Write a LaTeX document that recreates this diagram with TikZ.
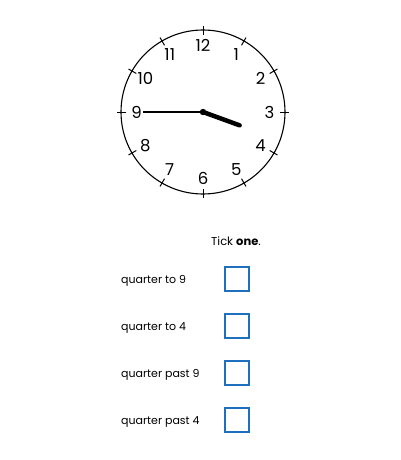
\documentclass[tikz,border=0pt]{standalone}
\usepackage{fontspec}
\setmainfont{Poppins}
\definecolor{BoxBlue}{RGB}{30, 112, 190}
\usetikzlibrary{arrows.meta, positioning, calc}

\begin{document}
\begin{tikzpicture}[
        x=1pt, y=-1pt,
        hour_num/.style={font=\fontsize{16.5}{16}\selectfont, inner sep=0pt},
        tick_box/.style={draw=BoxBlue, line width=2pt, minimum size=24pt, inner sep=0pt},
        choice/.style={font=\fontsize{11}{13}\selectfont, anchor=base west, inner sep=0pt}
    ]
        \useasboundingbox (0,0) rectangle (400,460);
        % Clock face
        \coordinate (c) at (203,112);
        \draw[line width=1.1pt] (c) circle[radius=82];
        \foreach \h in {1,...,12} {
            \draw[line width=1pt] ($(c)+({30*\h-90}:77)$) -- ($(c)+({30*\h-90}:86)$);
            \node[hour_num] (h\h) at ($(c)+({30*\h-90}:66.5)$) {\h};
        }
        % Hands
        \coordinate (minute_end) at ($(c)+(180:60)$);
        \coordinate (hour_end) at ($(c)+(20:39)$);
        \draw[line width=2pt] (c) -- (minute_end);
        \draw[line width=4.5pt, line cap=round] (c) -- (hour_end);
        \fill (c) circle[radius=3.2];

        % Question
        \node[font=\fontsize{11.5}{13}\selectfont, anchor=west, inner sep=0pt] (tick) at (211,241) {Tick \textbf{one}.};
        \node[tick_box] (b1) at (236.5,279) {};
        \node[tick_box, below=21pt of b1] (b2) {};
        \node[tick_box, below=21pt of b2] (b3) {};
        \node[tick_box, below=21pt of b3] (b4) {};
        \coordinate (lbl) at (121,-4);
        \node[choice] (q1) at ($(lbl |- b1)+(0,4)$) {quarter to 9};
        \node[choice] (q2) at ($(lbl |- b2)+(0,4)$) {quarter to 4};
        \node[choice] (q3) at ($(lbl |- b3)+(0,4)$) {quarter past 9};
        \node[choice] (q4) at ($(lbl |- b4)+(0,4)$) {quarter past 4};
    \end{tikzpicture}
\end{document}
